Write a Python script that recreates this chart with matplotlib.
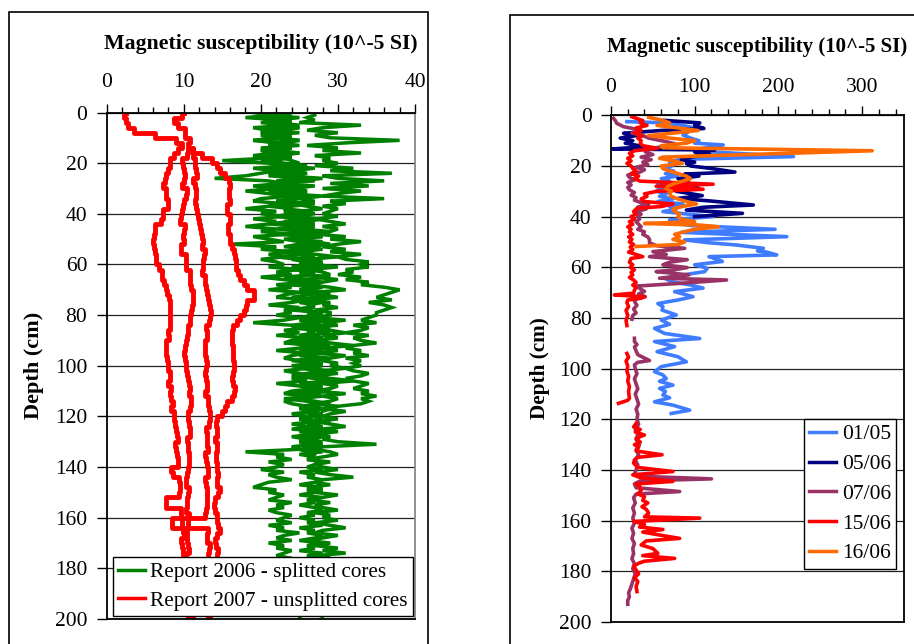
import numpy as np
import matplotlib
matplotlib.use("Agg")
import matplotlib.pyplot as plt
from matplotlib.patches import Rectangle
from matplotlib.lines import Line2D

plt.rcParams['font.family'] = ['Liberation Serif', 'DejaVu Serif']

# ---------------- Left panel data (1 cm steps for green, 2 cm for red) -------------
G1_START = 0
G1 = [19,22,18,23,20,24,19,21,25,20,22,19,23,21,24,20,22,19,21,15,
      21,24,19,22,20,18,14,21,23,19,22,18,21,24,20,19,23,21,18,22,
      20,23,19,22,21,18,22,20,24,19,21,23,16,22,20,24,21,23,20,22,
      23,21,25,22,24,20,23,26,22,24,21,25,23,22,26,24,21,25,23,24,
      22,25,23,19,24,26,23,25,22,26,24,23,27,25,22,26,24,23,25,27,
      24,26,23,25,27,24,26,22,25,27,24,23,26,25,23,24,26,25,27,24,
      26,25,27,24,26,28,25,27,24,26,25,27,24,25,18,23,22,24,21,23,
      22,20,23,21,22,24,21,20,19,22,21,23,22,21,24,22,23,21,22,24,
      23,22,24,21,23,22,25,23,22,24,21,23,22,24,23,22,24,23,22,23,
      22,24,23,22,24,23]
G2_START = 0
G2 = [21,24,20,23,22,25,21,24,20,23,22,25,21,23,24,20,25,22,24,21,
      23,26,22,25,21,24,23,27,22,25,24,21,26,23,25,22,27,24,23,26,
      24,22,26,23,27,25,22,26,24,28,23,25,27,24,26,22,25,27,24,26,
      25,28,24,27,26,29,25,27,24,28,26,25,29,27,24,28,26,27,25,28,
      27,25,29,26,28,24,27,29,26,28,25,27,29,26,28,27,25,29,27,26,
      28,26,29,27,25,28,30,26,28,27,29,26,28,25,27,29,26,28,27,26,
      28,27,29,26,28,27,29,26,28,27,25,28,27,26,28,25,27,26,28,27,
      26,28,25,27,26,28,27,25,28,26,27,25,28,26,27,25,27,28,26,27,
      25,27,26,28,25,27,26,28,27,25,28,26,27,25,28,26,27,25,26,28,
      27,26,28,25,27,26,28,27,25,26,27,28,26,25,27,26,28,27,26,25]
G3_START = 0
G3 = [23,20,25,22,24,21,25,23,20,24,22,25,23,21,24,22,25,20,23,24,
      25,22,27,24,26,23,28,25,22,27,24,26,23,28,25,27,24,26,28,25,
      27,24,28,26,23,27,25,29,26,28,24,27,29,26,28,25,27,30,26,28,
      27,30,26,28,29,27,30,28,26,29,31,27,28,30,26,29,28,30,27,29,
      29,27,31,28,30,26,29,31,28,30,27,29,32,28,30,27,31,29,28,30,
      29,31,28,30,27,29,32,28,30,29,27,31,28,30,29,27,30,28,31,29,
      28,30,27,29,31,28,30,27,29,28,30,35,28,27,29,30,28,26,29,27,
      28,30,27,29,32,28,27,29,26,28,27,30,28,26,29,27,28,30,27,29,
      28,30,27,29,31,28,27,30,28,26,29,27,30,28,31,27,29,28,30,27,
      28,27,29,28,30,27,28,29,27,28,29,27,28,30,28,27,29,28,27,28]
G4_START = 1
G4 = [27,26,27,25,33,28,26,30,27,29,38,31,26,30,28,33,27,29,28,
      30,27,32,29,37,28,30,36,29,34,28,33,30,28,36,29,31,28,30,29,
      28,30,27,29,31,28,30,29,27,31,29,33,30,28,31,29,33,30,31,34,
      33,34,31,32,30,33,31,34,33,36,38,37,36,35,37,34,36,37,36,35,
      35,34,33,35,32,34,33,31,34,32,33,35,32,31,33,32,34,31,33,32,
      33,31,32,34,33,31,32,34,33,32,34,33,35,33,34,33,30,29,28]
G5_START = 0
G5 = [20,23,19,24,21,22,25,20,23,21,24,19,22,25,20,23,21,24,22,20,
      22,25,20,23,24,21,26,22,24,20,25,23,21,26,24,22,25,21,24,23,
      25,22,26,24,21,25,23,27,22,26,24,28,25,23,27,24,26,22,25,27,
      26,24,28,25,27,23,26,28,24,27,25,29,26,24,28,25,27,26,24,28,
      26,28,25,27,24,29,26,27,25,28,26,24,27,29,25,28,26,27,24,28,
      27,25,28,26,24,27,29,25,27,26,28,24,27,23,26,28,25,27,26,28,
      27,25,28,26,27,24,28,26,27,25,28,26,27,25,26,27]

R1_START = 0
R1 = [2.5, 2.0, 3.0, 2.5, 4.5, 8.0, 10.0, 9.5, 9.0, 8.5,
      8.0, 8.5, 7.5, 8.0, 7.0, 7.5, 8.0, 7.5, 8.5, 7.5,
      7.0, 7.5, 6.5, 6.0, 6.5, 5.8, 6.3, 6.0, 6.5, 6.2,
      6.5, 7.0, 7.3, 7.0, 7.8, 7.5, 8.2, 8.0, 8.5, 8.0,
      8.5, 8.0, 8.5, 7.8, 8.2, 8.0, 7.5, 8.0, 7.5, 8.2,
      7.8, 8.0, 8.5, 7.8, 8.2, 8.5, 8.0, 8.8, 8.3, 8.5,
      9.0, 8.5, 9.2, 8.8, 9.5, 9.0, 8.7, 9.3, 9.0, 9.5,
      9.0, 7.8, 9.5, 9.2, 9.8, 9.3, 9.5, 6.0, 9.4, 9.8,
      9.5, 10.0, 9.6, 10.2, 9.8, 9.5, 10.0, 9.7, 10.2, 9.8,
      10.0, 10.3, 9.8, 10.2, 10.5, 10.0, 10.4, 10.2, 10.6, 10.3, 10.8]
R2_START = 0
R2 = [10.0, 9.5, 8.0, 10.5, 9.8, 10.5, 11.0, 10.2, 10.8, 10.0,
      9.5, 10.2, 9.8, 10.5, 9.6, 10.0, 10.8, 9.8, 10.3, 9.5,
      10.0, 9.3, 9.8, 10.5, 9.5, 10.2, 9.8, 9.4, 10.0, 10.5,
      10.0, 10.5, 11.0, 10.5, 11.2, 10.8, 11.5, 11.0, 11.3, 10.8,
      11.2, 10.5, 11.0, 10.2, 10.8, 10.0, 10.5, 9.8, 10.3, 10.0,
      10.5, 10.0, 10.8, 10.3, 11.0, 10.5, 10.8, 11.2, 10.6, 10.9,
      10.3, 10.8, 10.5, 11.0, 10.6, 10.2, 10.8, 10.4, 10.9, 10.5,
      10.8, 10.3, 10.6, 10.1, 10.5, 10.8, 10.3, 10.6, 10.2, 10.5,
      10.8, 10.4, 10.7, 10.2, 10.6, 10.3, 10.8, 10.5, 10.2, 10.6,
      10.4, 10.8, 10.5, 10.9, 10.6, 11.0, 10.7, 11.1, 10.8, 11.0, 11.2]
R3_START = 14
R3 = [11.0, 11.5, 11.0, 11.8, 11.2, 12.0, 11.5, 11.0, 11.8, 11.3,
      11.8, 11.2, 12.0, 11.5, 12.2, 11.8, 12.5, 12.0, 12.8, 12.2,
      12.5, 13.0, 12.3, 12.8, 12.2, 12.6, 13.0, 12.5, 13.2, 12.8,
      13.5, 13.0, 13.8, 13.2, 13.5, 13.0, 12.8, 13.3, 12.6, 13.0,
      12.5, 13.0, 12.7, 13.2, 12.5, 13.0, 12.8, 13.3, 12.6, 12.9,
      13.4, 13.0, 13.6, 13.2, 13.5, 13.0, 12.8, 13.3, 12.7, 13.2,
      13.0, 12.5, 13.2, 12.8, 13.4, 13.0, 12.6, 13.1, 12.8, 13.3,
      12.8, 13.2, 12.6, 13.0, 4.0, 12.9, 13.3, 12.7, 13.2, 13.5,
      13.0, 13.4, 12.8, 13.2, 13.6, 13.1, 13.4, 12.9, 13.3, 13.0,
      13.4, 13.1, 13.5, 13.2]
R4_START = 14
R4 = [10.8, 11.5, 13.2, 14.0, 14.5, 15.0, 15.8, 16.0, 16.0, 15.8,
      16.0, 16.0, 15.2, 16.0, 16.0, 16.0, 15.4, 16.0, 16.0, 16.0,
      16.5, 16.5, 16.8, 16.8, 16.8, 17.2, 17.5, 18.0, 18.3, 20.0,
      18.2, 18.2, 18.0, 17.5, 17.2, 16.5, 16.2, 16.2, 16.2, 16.3,
      16.4, 16.4, 16.5, 16.5, 16.5, 16.3, 16.3, 16.6, 16.6, 16.4,
      16.0, 15.2, 15.5, 14.5, 14.2, 14.2, 14.5, 14.0, 14.2, 14.5,
      14.0, 14.3, 14.0, 14.5, 14.2, 14.6, 14.0, 14.5, 14.8, 14.2,
      14.0, 13.8, 14.2, 14.5, 14.0, 14.8, 14.5, 14.2, 14.0, 14.3,
      14.5, 14.2, 14.5]

# ---------------- Right panel data (depth, value) ----------------
S0105_D = [2.5,3,4,5,6,7.8,9,10,11,11.7,13,14.4,16.3,17.4,18.5,20,21,22,23,24,25,26,27,28,29,30,31,32,33,34,35,36,37,38,39,40,
           41.3,42.5,43.5,45,46.2,47.9,49.2,50.3,51.2,52.5,53.5,54,55.1,55.8,57,57.7,59,60.4,61.7,63,64.3,65.6,67,68.2,69.6,
           71.6,72.9,74.3,75.5,76.9,78.8,80.8,82.5,84.1,86.1,88.1,89.3,91.3,93.3,95.3,97.3,99.2,101.2,102.5,103.9,105,106.5,
           107.8,109,110.4,111.5,113.1,114.4,116.4,117.7]
S0105_V = [19,66,86,100,95,86,95,105,100,134,110,118,218,82,70,73,62,75,65,79,60,70,56,64,58,54,66,58,74,56,86,70,78,62,92,122,
           70,75,95,196,84,210,88,117,150,182,175,186,198,117,128,133,100,115,112,86,64,72,95,110,76,
           98,80,56,62,61,78,60,70,52,64,106,52,76,55,80,90,60,52,62,66,58,74,
           58,65,62,70,52,74,94,72]

S0506_D = [2,3,4,5.2,6,7.1,8,9,10,11,12.4,13.3,13.7,14.5,15.4,16.5,17.5,18.5,19,20,21,22.4,23.2,24,25,26,27,28.8,30,31.7,
           32.8,33.8,35.4,36.3,37.4,38.7,40]
S0506_V = [64,106,100,111,60,15,30,11,26,17,40,2,124,100,118,95,84,100,90,95,120,148,88,105,80,92,75,105,78,109,
           80,118,170,110,90,157,100]

S0706_D = [1.2,2,3.2,4.5,5.8,7,8,9,10.4,11.5,12.4,13.5,14.4,15.5,16.5,17.5,18.5,19.5,20.5,21.5,22.5,23.6,24.5,25.5,26.5,
           27.5,28.5,29.4,30.5,31.5,32.5,33.5,34.5,35.3,36.2,37,38,39,40,41,42,43,44,45,46,47,48,49,50.4,51.5,52.5,53.8,
           54.9,55.8,57,58,59,60.1,61,61.7,63,64.3,65,66.3,67.4,68.5,69.5,70.5,71.6,72.5,73.5,75,76.5,78,79,80.5,
           np.nan,
           88,89.3,90.5,91.5,93,94.5,95.5,96.8,97.5,98.5,100,102,104,106,108,110,112,114,116,118,120,122,124,126,128,
           130,132,134,136,138,140,141.5,142.5,143.5,144.3,145.5,147,148.5,149.5,151,153,155,157,159,161,163,165,167,
           169,171,173,175,177,179,181,183,185,187,188.5,190,191.5,193]
S0706_V = [3,5,7,15,35,25,38,45,66,79,60,45,41,50,36,48,38,44,30,40,34,20,22,28,20,
           24,20,22,28,24,30,28,36,45,32,42,30,36,32,34,30,33,36,32,40,38,44,46,46,55,88,50,
           66,46,91,70,62,91,75,54,93,58,138,84,31,35,40,33,41,30,28,31,27,30,26,25,
           np.nan,
           28,28,31,28,30,32,38,46,32,28,29,31,28,30,32,29,31,33,30,32,31,33,29,32,30,
           34,30,33,29,32,30,28,35,120,35,28,30,82,30,27,29,26,28,26,28,25,27,25,
           28,26,27,25,28,26,29,27,25,23,21,22,20,20]

S1506_D = [0.6,2.1,3,4,5,6,7,8,9,10,11,12,13,14,15,16,17,18,19,20,21,22,23,24,25,26,27.2,28,29.2,30,31,32,33,34,35,36,
           36.7,38,39,40,41,42,43,44,45,46,47,48,49,50,51,52,53,54,55.8,56.5,58,59,60,61,62,63,64,65,66,67,68,69,70.2,
           70.9,71.6,72.2,72.9,74,75.5,77,79,81,83,
           np.nan,
           94,95.5,97,99,101,103,105,107,109,111.7,112.5,113.7,
           np.nan,
           121.6,123,124,125,126.2,127.5,129,130,131,132.5,134,135,136,137.3,139,140.6,141.9,143,144.5,145.5,146.5,148,
           149.5,150.5,152,153,154.5,155.5,157,158.5,159,160.3,161.5,162.5,163.5,164.5,165.5,167,168,169.6,171,172.9,
           173.8,174.9,176,176.8,178,179.5,181,182.5,184,186,188]
S1506_V = [25,38,35,43,30,36,28,38,32,36,35,38,55,28,22,26,20,24,19,24,26,30,24,33,28,35,122,54,110,55,40,43,36,39,74,60,
           31,27,30,24,28,22,26,20,24,22,26,21,25,22,27,23,26,21,38,24,22,26,23,28,24,26,22,27,30,26,30,28,27,
           4,40,36,20,19,21,18,20,18,19,
           np.nan,
           19,21,18,20,19,21,20,22,21,22,20,9,
           np.nan,
           30,27,35,29,40,30,35,28,33,30,61,32,28,27,32,74,26,35,74,30,34,36,
           32,40,38,44,37,42,45,40,106,27,40,34,62,38,55,82,42,36,50,56,
           38,76,40,33,27,30,33,28,32,30,31]

S1606_D = [0.8,2,3,4,5,6,7,8,9,10,11,12,12.8,14,16.5,17,18,19,20,21,22,23,24,25,26,27,28,29,30,31,32,33,34,35,36,37,38,
           39,40,41,42,42.7,43.3,44,45,46,47,48,49,50,51,51.8]
S1606_V = [45,62,70,55,80,104,75,45,70,100,90,60,62,312,62,58,75,85,60,62,70,80,90,95,85,75,68,66,72,70,72,80,90,102,85,74,76,
           82,80,84,100,40,105,128,100,87,76,82,74,88,80,30]

LEFT_XTICKS = [0, 10, 20, 30, 40]
RIGHT_XTICKS = [0, 100, 200, 300]
DEPTH_TICKS = [0, 20, 40, 60, 80, 100, 120, 140, 160, 180, 200]
TITLE = "Magnetic susceptibility (10^-5 SI)"
YLABEL = "Depth (cm)"
LEFT_LABELS = ["Report 2006 - splitted cores", "Report 2007 - unsplitted cores"]
RIGHT_LABELS = ["01/05", "05/06", "07/06", "15/06", "16/06"]
RIGHT_COLORS = ["#3F7CFF", "#000080", "#993366", "#FF0000", "#FF6A00"]

# ---------------- Figure ----------------
W, H = 914, 644
fig = plt.figure(figsize=(W / 100, H / 100), dpi=100)

def fx(px):
    return px / W

def fy(py):
    return 1 - py / H

# outer frames
fig.add_artist(Rectangle((fx(9), fy(700)), fx(428) - fx(9), fy(12) - fy(700),
                         transform=fig.transFigure, fill=False, ec='black', lw=1.2))
fig.add_artist(Rectangle((fx(510), fy(700)), fx(960) - fx(510), fy(15.5) - fy(700),
                         transform=fig.transFigure, fill=False, ec='black', lw=1.2))

FS = 15.5

def style_axis(ax, xmax, xticks, minor_step, pad_top):
    ax.set_xlim(0, xmax)
    ax.set_ylim(200, 0)
    ax.xaxis.tick_top()
    ax.set_xticks(xticks)
    ax.set_xticks(np.arange(0, xmax + 0.01, minor_step), minor=True)
    ax.set_yticks(DEPTH_TICKS)
    ax.tick_params(axis='x', which='major', direction='out', length=6.5, width=1.0, labelsize=FS, pad=pad_top)
    ax.tick_params(axis='x', which='minor', direction='out', length=4, width=1.0)
    ax.tick_params(axis='y', which='major', direction='out', length=7, width=1.0, labelsize=FS, pad=7)
    ax.grid(axis='y', color='#222222', lw=0.9)
    ax.set_axisbelow(True)
    for s in ax.spines.values():
        s.set_linewidth(1.3)
        s.set_color('black')

# ---- left panel ----
axL = fig.add_axes([fx(106.7), fy(619), fx(415) - fx(106.7), fy(112.5) - fy(619)])
style_axis(axL, 40, LEFT_XTICKS, 2, 8.5)
axL.spines['right'].set_color('#888888')

green = '#008000'
red = '#FF0000'
for start, vals in [(G1_START, G1), (G2_START, G2), (G3_START, G3), (G4_START, G4), (G5_START, G5)]:
    d = start + np.arange(len(vals))
    axL.plot(vals, d, color=green, lw=2.5, solid_joinstyle='miter')
for start, vals in [(R1_START, R1), (R2_START, R2), (R3_START, R3), (R4_START, R4)]:
    d = start + 2 * np.arange(len(vals))
    axL.plot(vals, d, color=red, lw=3.5, drawstyle='steps-mid')

handlesL = [Line2D([], [], color=green, lw=2.5), Line2D([], [], color=red, lw=2.5)]
legL = axL.legend(handlesL, LEFT_LABELS, loc='upper left', bbox_to_anchor=(fx(112.7), fy(557)),
                  bbox_transform=fig.transFigure, fontsize=15.3, frameon=True, fancybox=False,
                  edgecolor='black', framealpha=1, borderpad=0.25, handlelength=1.25,
                  handletextpad=0.25, labelspacing=0.4, borderaxespad=0)
legL.get_frame().set_linewidth(1.0)

fig.text(fx(260.5), fy(44), TITLE, ha='center', va='center', fontsize=15.7, fontweight='bold')
fig.text(fx(34.5), fy(365), YLABEL, ha='center', va='center', rotation=90, fontsize=16, fontweight='bold')

# ---- right panel ----
axR = fig.add_axes([fx(611), fy(622), fx(904) - fx(611), fy(115.3) - fy(622)])
style_axis(axR, 350, RIGHT_XTICKS, 20, 6.5)

series = [(S0105_D, S0105_V), (S0506_D, S0506_V), (S0706_D, S0706_V), (S1506_D, S1506_V), (S1606_D, S1606_V)]
for (d, v), c in zip(series, RIGHT_COLORS):
    axR.plot(v, d, color=c, lw=2.6)

handlesR = [Line2D([], [], color=c, lw=2.5) for c in RIGHT_COLORS]
legR = axR.legend(handlesR, RIGHT_LABELS, loc='upper left', bbox_to_anchor=(fx(804), fy(419)),
                  bbox_transform=fig.transFigure, fontsize=FS, frameon=True, fancybox=False,
                  edgecolor='black', framealpha=1, borderpad=0.25, handlelength=1.25,
                  handletextpad=0.25, labelspacing=0.45, borderaxespad=0)
legR.get_frame().set_linewidth(1.0)

fig.text(fx(757.5), fy(47), TITLE, ha='center', va='center', fontsize=15, fontweight='bold')
fig.text(fx(539.5), fy(368), YLABEL, ha='center', va='center', rotation=90, fontsize=15.3, fontweight='bold')

fig.savefig('out.png', dpi=100)
